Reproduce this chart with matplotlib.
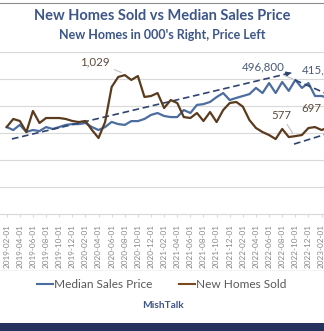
import matplotlib
matplotlib.use("Agg")
import matplotlib.pyplot as plt
from matplotlib.lines import Line2D
from matplotlib.patches import Rectangle
import pandas as pd

plt.rcParams['font.family'] = ['Lato', 'DejaVu Sans']

# ---- data (monthly, starting 2019-02) ----
start_month = '2019-02-01'
price = [322000, 311000, 330000, 304000, 311000, 307000, 322000, 315000, 322000, 330000,
         333000, 333000, 337000, 322000, 311000, 322000, 341000, 333000, 330000, 344000,
         344000, 352000, 367000, 374000, 363000, 359000, 359000, 385000, 374000, 404000,
         407000, 415000, 433000, 448000, 422000, 430000, 437000, 444000, 467000, 448000,
         485000, 448000, 489000, 456000, 496800, 467000, 485000, 437000, 437000, 430000]
homes = [644, 704, 689, 607, 763, 674, 711, 711, 711, 704,
         689, 681, 689, 622, 563, 681, 941, 1015, 1029, 993,
         1022, 867, 874, 896, 785, 844, 822, 718, 711, 748,
         689, 755, 681, 770, 822, 830, 795, 696, 637, 607,
         585, 555, 630, 570, 577, 585, 637, 644, 622, 640]

months = pd.date_range(start_month, periods=len(price), freq='MS')
tick_labels = [d.strftime('%Y-%m-%d') for d in months[::2]]

# trend annotations: (month index, value)
trend_price_up = [(0.8, 278000), (43.2, 522000)]
trend_price_down = [(43.95, 496000), (49.3, 440000)]
trend_homes_up = [(43.8, 518), (49.3, 601)]

# data labels: (text, month index of label, value of label, point index)
homes_labels = [('1,029', 13.5, 1126, 18), ('577', 41.8, 733, 44)]
price_labels = [('496,800', 39.1, 544000, 44)]

BLUE = '#4b6d9f'
BROWN = '#5a3b1d'
TREND = '#2f4470'
GRID = '#d9d9d9'
TITLE = '#3d5688'

fig = plt.figure(figsize=(3.24, 3.31), dpi=100)
H = 331.0
ax = fig.add_axes([0, (H - 214) / H, 1, (214 - 52) / H])
ax2 = ax.twinx()

x = list(range(len(price)))
ax.plot(x, price, color=BLUE, lw=1.6, solid_joinstyle='round')
ax2.plot(x, homes, color=BROWN, lw=1.6, solid_joinstyle='round')

ax.set_xlim(-1.02, 48.37)
ax.set_ylim(0, 600000)
ax2.set_ylim(0, 1200)
ax.set_yticks(range(0, 600001, 100000))
ax2.set_yticks([])
ax.grid(axis='y', color=GRID, lw=0.8)
ax.set_axisbelow(True)
ax.tick_params(axis='y', left=False, labelleft=False)
ax.set_xticks(x[::2])
ax.set_xticklabels(tick_labels, rotation=90, fontsize=5.9, color='#888888')
ax.tick_params(axis='x', length=2, color=GRID, pad=5)
for a in (ax, ax2):
    for s in ('left', 'right', 'top'):
        a.spines[s].set_visible(False)
ax.spines['bottom'].set_color(GRID)
ax2.spines['bottom'].set_visible(False)

# trend lines
(x0, y0), (x1, y1) = trend_price_up
ax.plot([x0, x1], [y0, y1], ls=(0, (4, 2.2)), color=TREND, lw=1.2)
ax.annotate('', xy=(x1 + 0.6, y1 + 3000), xytext=(x1 - 0.3, y1 - 2000),
            arrowprops=dict(arrowstyle='-|>', color=TREND, lw=1.0, mutation_scale=7))
(x0, y0), (x1, y1) = trend_price_down
ax.plot([x0, x1], [y0, y1], ls=(0, (4, 2.2)), color=TREND, lw=1.2)
(x0, y0), (x1, y1) = trend_homes_up
ax2.plot([x0, x1], [y0, y1], ls=(0, (4, 2.2)), color=TREND, lw=1.2)

# data labels
for txt, lx, ly, i in homes_labels:
    ax2.annotate(txt, xy=(i - 0.3, homes[i] + 15), xytext=(lx, ly), ha='center', va='center',
                 fontsize=8.3, color='#5b4a3a',
                 arrowprops=dict(arrowstyle='-', color='#bfbfbf', lw=0.8, shrinkA=1, shrinkB=1))
for txt, lx, ly, i in price_labels:
    ax.annotate(txt, xy=(i, price[i]), xytext=(lx, ly), ha='center', va='center',
                fontsize=8.3, color='#4a5a78',
                arrowprops=dict(arrowstyle='-', color='#bfbfbf', lw=0.8, shrinkA=1, shrinkB=2))
ax2.text(46.4, 778, '697', ha='center', va='center', fontsize=8.3, color='#5b4a3a')
ax.text(45.0, 533000, '415,400', ha='left', va='center', fontsize=8.3, color='#4a5a78')

# titles
fig.text(0.5, 1 - 16 / H, 'New Homes Sold vs Median Sales Price', ha='center', va='center',
         fontsize=10.5, fontweight='bold', color=TITLE)
fig.text(0.5, 1 - 35 / H, "New Homes in 000's Right, Price Left", ha='center', va='center',
         fontsize=9.0, fontweight='bold', color=TITLE)

# legend
handles = [Line2D([], [], color=BLUE, lw=1.5), Line2D([], [], color='#7a4a1c', lw=1.5)]
fig.legend(handles, ['Median Sales Price', 'New Homes Sold'], loc='center',
           bbox_to_anchor=(0.5, 1 - 285 / H), ncol=2, frameon=False, fontsize=8.6,
           handlelength=1.3, handletextpad=0.15, columnspacing=2.2,
           labelcolor='#595959')
fig.text(0.503, 1 - 306 / H, 'MishTalk', ha='center', va='center', fontsize=7.3,
         fontweight='bold', color=TITLE)

# frame decorations
fig.add_artist(Line2D([0, 1], [1 - 3 / H, 1 - 3 / H], color='#8c8c8c', lw=0.8))
fig.add_artist(Line2D([0, 1], [1 - 270 / H, 1 - 270 / H], color='#f0f0f0', lw=0.6))
fig.add_artist(Rectangle((0, 0), 1, 8 / H, transform=fig.transFigure, color='#27335f', lw=0))

fig.savefig('out.png', dpi=100)
